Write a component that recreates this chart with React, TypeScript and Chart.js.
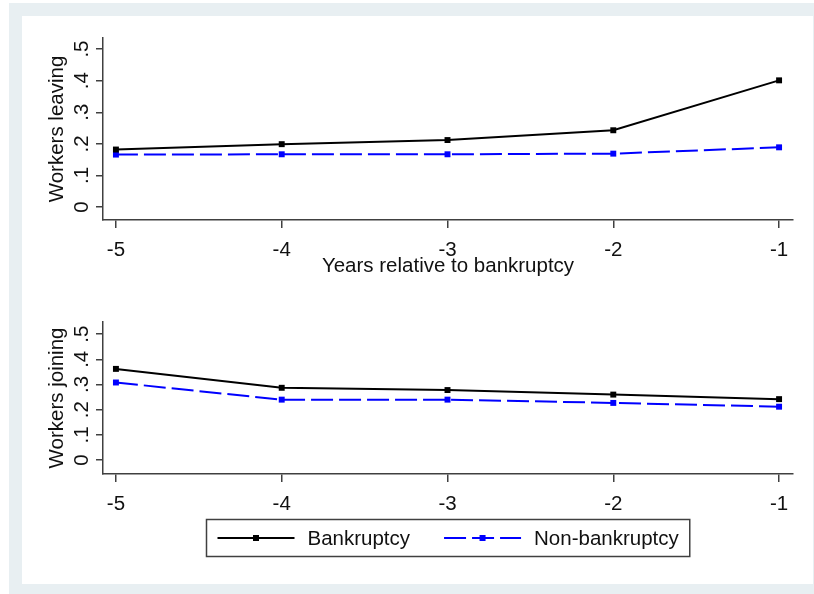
import React, { useEffect, useRef } from 'react';
import { Chart, registerables } from 'chart.js';

Chart.register(...registerables);

// ---- data ----
const years = [-5, -4, -3, -2, -1];
const xTickLabels = ['-5', '-4', '-3', '-2', '-1'];
const yTickValues = [0, 0.1, 0.2, 0.3, 0.4, 0.5];
const yTickLabels = ['0', '.1', '.2', '.3', '.4', '.5'];
const seriesNames = ['Bankruptcy', 'Non-bankruptcy'];
const leavingBankruptcy = [0.182, 0.199, 0.212, 0.243, 0.401];
const leavingNonBankruptcy = [0.166, 0.167, 0.167, 0.169, 0.189];
const joiningBankruptcy = [0.362, 0.287, 0.278, 0.26, 0.242];
const joiningNonBankruptcy = [0.308, 0.24, 0.24, 0.227, 0.212];
const topTitleY = 'Workers leaving';
const bottomTitleY = 'Workers joining';
const titleX = 'Years relative to bankruptcy';

// ---- styles ----
const FONT = "'Liberation Sans', Arial, sans-serif";
const FONT_SIZE = 20.5;
const TEXT = '#111111';
const AXIS = '#404040';
const BLACK = '#000000';
const BLUE = '#0000ff';
const DASH = [22, 6];

const labelFor = (arr: number[], labels: string[], v: number) => {
  const i = arr.findIndex((a) => Math.abs(a - v) < 1e-9);
  return i >= 0 ? labels[i] : '';
};

const legendPlugin = {
  id: 'stataLegend',
  afterDraw(chart: any, _args: any, opts: any) {
    if (!opts || !opts.show) return;
    const ctx = chart.ctx as CanvasRenderingContext2D;
    const ca = chart.chartArea;
    const ds = chart.data.datasets;
    ctx.save();
    ctx.font = `${FONT_SIZE}px ${FONT}`;
    const sample = 77, gap = 13, itemGap = 34, pad = 11;
    const widths = ds.map((d: any) => ctx.measureText(d.label).width);
    const total =
      pad * 2 +
      ds.length * (sample + gap) +
      widths.reduce((a: number, b: number) => a + b, 0) +
      itemGap * (ds.length - 1);
    const left = Math.round((ca.left + ca.right) / 2 - total / 2) + 0.5;
    const top = opts.top + 0.5;
    const h = opts.height;
    ctx.strokeStyle = AXIS;
    ctx.lineWidth = 1.5;
    ctx.strokeRect(left, top, total, h);
    const cy = top + h / 2;
    let x = left + pad;
    ds.forEach((d: any, i: number) => {
      ctx.strokeStyle = d.borderColor;
      ctx.lineWidth = 2;
      ctx.setLineDash(d.borderDash || []);
      ctx.beginPath();
      ctx.moveTo(x, cy);
      ctx.lineTo(x + sample, cy);
      ctx.stroke();
      ctx.setLineDash([]);
      ctx.fillStyle = d.borderColor;
      ctx.fillRect(x + sample / 2 - 3, cy - 3, 6, 6);
      ctx.fillStyle = TEXT;
      ctx.textBaseline = 'middle';
      ctx.textAlign = 'left';
      ctx.fillText(d.label, x + sample + gap, cy + 1);
      x += sample + gap + widths[i] + itemGap;
    });
    ctx.restore();
  },
};

function makeConfig(opts: {
  b: number[];
  n: number[];
  yTitle: string;
  yMin: number;
  yMax: number;
  xTitle: string | null;
  xHeight: number;
  padTop: number;
  padBottom: number;
  legend: boolean;
}): any {
  const font = { family: FONT, size: FONT_SIZE };
  return {
    type: 'line',
    data: {
      datasets: [
        {
          label: seriesNames[0],
          data: years.map((x, i) => ({ x, y: opts.b[i] })),
          borderColor: BLACK,
          backgroundColor: BLACK,
          borderWidth: 2,
          pointStyle: 'rect',
          pointRadius: 4.2,
          pointBorderWidth: 0,
          pointBackgroundColor: BLACK,
          tension: 0,
        },
        {
          label: seriesNames[1],
          data: years.map((x, i) => ({ x, y: opts.n[i] })),
          borderColor: BLUE,
          backgroundColor: BLUE,
          borderWidth: 2,
          borderDash: DASH,
          pointStyle: 'rect',
          pointRadius: 4.2,
          pointBorderWidth: 0,
          pointBackgroundColor: BLUE,
          tension: 0,
        },
      ],
    },
    options: {
      responsive: false,
      animation: false,
      devicePixelRatio: 1,
      layout: { padding: { left: 0, right: 21, top: opts.padTop, bottom: opts.padBottom } },
      plugins: {
        legend: { display: false },
        tooltip: { enabled: false },
        stataLegend: { show: opts.legend, top: 229, height: 37 },
      },
      scales: {
        x: {
          type: 'linear',
          min: -5.078,
          max: -0.916,
          afterBuildTicks: (s: any) => {
            s.ticks = years.map((v) => ({ value: v }));
          },
          afterFit: (s: any) => {
            s.height = opts.xHeight;
          },
          grid: {
            display: true,
            drawOnChartArea: false,
            drawTicks: true,
            tickLength: 8,
            color: AXIS,
            lineWidth: 1.5,
          },
          border: { display: true, color: AXIS, width: 1.5 },
          ticks: {
            autoSkip: false,
            minRotation: 0,
            maxRotation: 0,
            padding: 10,
            color: TEXT,
            font,
            callback: (v: number) => labelFor(years, xTickLabels, v),
          },
          title: {
            display: !!opts.xTitle,
            text: opts.xTitle || '',
            color: TEXT,
            font,
            padding: { top: 0, bottom: 0 },
          },
        },
        y: {
          type: 'linear',
          min: opts.yMin,
          max: opts.yMax,
          afterBuildTicks: (s: any) => {
            s.ticks = yTickValues.map((v) => ({ value: v }));
          },
          afterFit: (s: any) => {
            s.width = 103;
          },
          grid: {
            display: true,
            drawOnChartArea: false,
            drawTicks: true,
            tickLength: 7,
            color: AXIS,
            lineWidth: 1.5,
          },
          border: { display: true, color: AXIS, width: 1.5 },
          ticks: {
            autoSkip: false,
            minRotation: 90,
            maxRotation: 90,
            crossAlign: 'center',
            padding: 5,
            color: TEXT,
            font,
            callback: (v: number) => labelFor(yTickValues, yTickLabels, v),
          },
          title: {
            display: true,
            text: opts.yTitle,
            color: TEXT,
            font,
            padding: { top: 45, bottom: 0 },
          },
        },
      },
    },
    plugins: [legendPlugin],
  };
}

function Panel(props: { cfg: any; top: number; height: number }) {
  const ref = useRef<HTMLCanvasElement>(null);
  useEffect(() => {
    if (!ref.current) return;
    const chart = new Chart(ref.current, props.cfg);
    return () => chart.destroy();
  }, []);
  return (
    <canvas
      ref={ref}
      width={814}
      height={props.height}
      style={{ position: 'absolute', left: 0, top: props.top, width: 814, height: props.height }}
    />
  );
}

export default function App() {
  const topCfg = makeConfig({
    b: leavingBankruptcy,
    n: leavingNonBankruptcy,
    yTitle: topTitleY,
    yMin: -0.041,
    yMax: 0.535,
    xTitle: titleX,
    xHeight: 59,
    padTop: 38,
    padBottom: 11,
    legend: false,
  });
  const bottomCfg = makeConfig({
    b: joiningBankruptcy,
    n: joiningNonBankruptcy,
    yTitle: bottomTitleY,
    yMin: -0.055,
    yMax: 0.548,
    xTitle: null,
    xHeight: 40,
    padTop: 32,
    padBottom: 70,
    legend: true,
  });
  return (
    <div style={{ position: 'absolute', left: 0, top: 0, width: 814, height: 594, background: '#ffffff', overflow: 'hidden' }}>
      <div style={{ position: 'absolute', left: 9, top: 3, width: 805, height: 591, background: '#e8eff2' }} />
      <div style={{ position: 'absolute', left: 22, top: 16, width: 791, height: 568, background: '#ffffff' }} />
      <Panel cfg={topCfg} top={0} height={290} />
      <Panel cfg={bottomCfg} top={290} height={294} />
    </div>
  );
}
